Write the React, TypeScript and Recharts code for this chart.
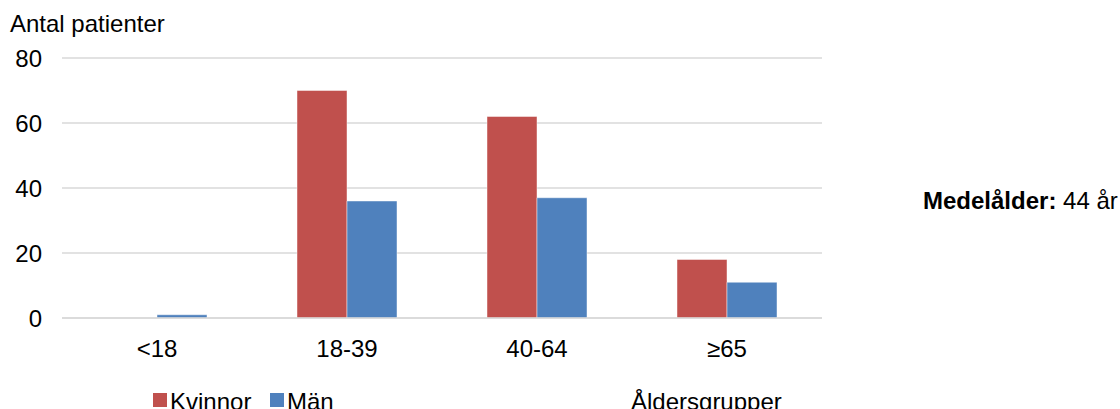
import React from 'react';
import { BarChart, Bar, XAxis, YAxis, CartesianGrid } from 'recharts';

const ageGroups = ['<18', '18-39', '40-64', '≥65'];
const women = [0, 70, 62, 18];
const men = [1, 36, 37, 11];
const yTicks = [0, 20, 40, 60, 80];

const series = [
  { key: 'kvinnor', name: 'Kvinnor', color: '#c0504d' },
  { key: 'man', name: 'Män', color: '#4f81bd' },
];

const data = ageGroups.map((group, i) => ({
  group,
  kvinnor: women[i],
  man: men[i],
}));

const FONT = '"Liberation Sans", Arial, sans-serif';
const GRID = '#d9d9d9';

export default function App() {
  return (
    <div style={{ position: 'relative', width: 1120, height: 409, overflow: 'hidden', fontFamily: FONT }}>
      <style>{'body{margin:0}'}</style>
      <BarChart
        width={1120}
        height={409}
        data={data}
        margin={{ top: 58, right: 298, bottom: 51, left: 0 }}
        barCategoryGap={45}
        barGap={0}
      >
        <CartesianGrid horizontal vertical={false} stroke={GRID} strokeWidth={1.5} />
        <XAxis
          dataKey="group"
          height={40}
          axisLine={{ stroke: GRID, strokeWidth: 1.5 }}
          tickLine={false}
          tickSize={0}
          tickMargin={22}
          tick={{ fill: '#000', fontSize: 24, fontFamily: FONT }}
        />
        <YAxis
          width={62}
          domain={[0, 80]}
          ticks={yTicks}
          axisLine={false}
          tickLine={false}
          tickSize={0}
          tickMargin={20}
          tick={{ fill: '#000', fontSize: 24, fontFamily: FONT }}
        />
        {series.map((s) => (
          <Bar
            key={s.key}
            dataKey={s.key}
            name={s.name}
            fill={s.color}
            stroke="#ffffff"
            strokeOpacity={0.45}
            strokeWidth={1}
            isAnimationActive={false}
          />
        ))}
      </BarChart>
      {/* titles and legend laid over the chart */}
      <svg width={1120} height={409} style={{ position: 'absolute', left: 0, top: 0, pointerEvents: 'none' }}>
        <g fontFamily={FONT} fontSize={24} fill="#000">
          <text x={10} y={31.5}>Antal patienter</text>
          <text x={631} y={409.5}>Åldersgrupper</text>
          <text x={923} y={209}>
            <tspan fontWeight="bold">Medelålder:</tspan> 44 år
          </text>
          <rect x={153} y={393} width={14} height={14} fill={series[0].color} />
          <text x={170} y={409.5}>{series[0].name}</text>
          <rect x={270} y={393} width={14} height={14} fill={series[1].color} />
          <text x={287} y={409.5}>{series[1].name}</text>
        </g>
      </svg>
    </div>
  );
}
